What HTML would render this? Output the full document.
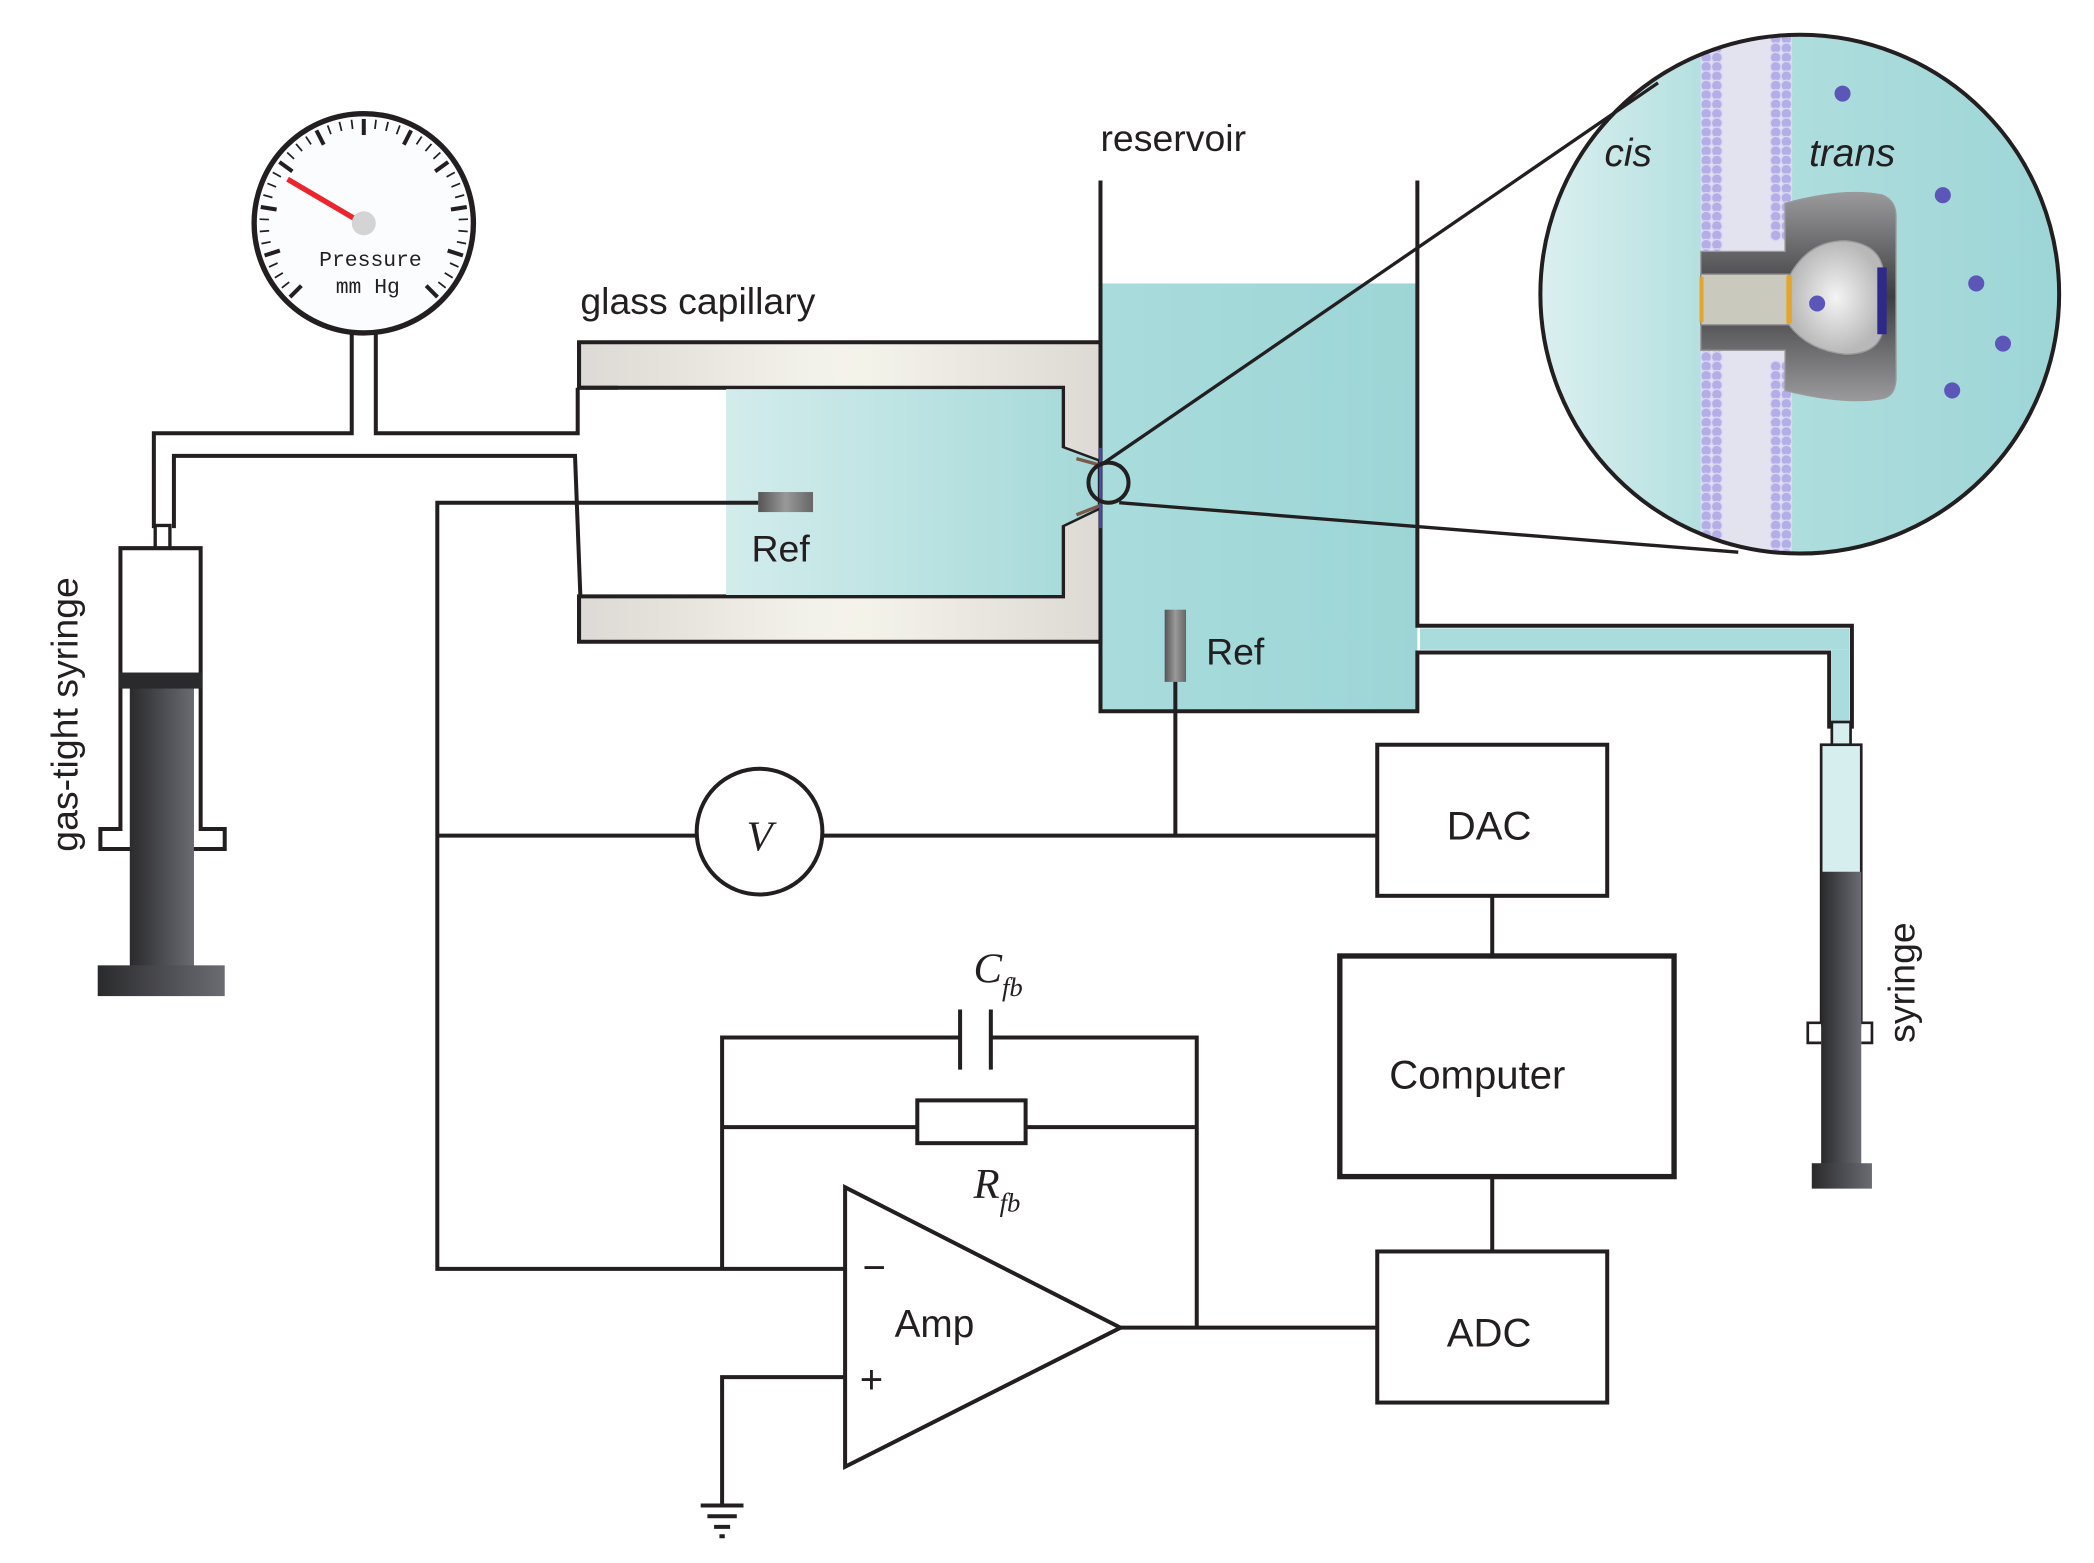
<!DOCTYPE html>
<html><head><meta charset="utf-8"><style>
html,body{margin:0;padding:0;background:#fff;}
svg{display:block;}
text{font-family:"Liberation Sans",sans-serif;fill:#231f20;}
</style></head><body>
<svg id="s" width="2094" height="1563" viewBox="0 0 1566 1169" xmlns="http://www.w3.org/2000/svg">
<defs>
<linearGradient id="cap" x1="0" x2="1"><stop offset="0" stop-color="#ddd9d4"/><stop offset="0.45" stop-color="#f3f2ea"/><stop offset="0.55" stop-color="#f4f3ea"/><stop offset="1" stop-color="#ddd9d4"/></linearGradient>
<linearGradient id="cy" x1="0" x2="1"><stop offset="0" stop-color="#d3ecec"/><stop offset="1" stop-color="#a5d9d9"/></linearGradient>
<linearGradient id="res" x1="0" x2="1"><stop offset="0" stop-color="#a9dcdc"/><stop offset="1" stop-color="#9dd5d6"/></linearGradient>
<linearGradient id="ins" x1="0" x2="1"><stop offset="0" stop-color="#dcf0f0"/><stop offset="0.3" stop-color="#b5e0e0"/><stop offset="1" stop-color="#9cd5d6"/></linearGradient>
<linearGradient id="pl" x1="0" x2="1"><stop offset="0" stop-color="#2a2a2c"/><stop offset="0.5" stop-color="#4a4b50"/><stop offset="1" stop-color="#6a6c72"/></linearGradient>
<linearGradient id="ref" x1="0" x2="1"><stop offset="0" stop-color="#555"/><stop offset="0.5" stop-color="#999"/><stop offset="1" stop-color="#666"/></linearGradient>
<linearGradient id="pore" x1="0" x2="0" y1="0" y2="1"><stop offset="0" stop-color="#9a9a9c"/><stop offset="0.5" stop-color="#3e3e40"/><stop offset="1" stop-color="#9a9a9c"/></linearGradient>
<radialGradient id="bulb"><stop offset="0" stop-color="#f4f4f4"/><stop offset="1" stop-color="#b8b8b8"/></radialGradient>
<clipPath id="cc"><circle cx="1346" cy="220" r="194"/></clipPath>
</defs>
<g stroke="#231f20" stroke-width="3" fill="none">
<rect x="823" y="212" width="237" height="320" fill="url(#res)" stroke="none"/>
<path d="M823,135 V532 H1060 V488 H1368 V545"/>
<path d="M1060,135 V468 H1385 V545"/>
<rect x="1062" y="470" width="321" height="16" fill="#a9dcdc" stroke="none"/>
<rect x="1370" y="486" width="13" height="60" fill="#a9dcdc" stroke="none"/>
<path d="M433,256 H823 V480 H433 V446 H795 V393 L822,380 V345 L795,335 V290 H433 Z" fill="url(#cap)" fill-rule="evenodd"/>
<path d="M543,291 H794 V335 L821,345 V380 L794,393 V445 H543 Z" fill="url(#cy)" stroke="none"/>
<path d="M433,256 V290 H462 M433,480 V446"/>
<path d="M805,343 L823,348 M805,385 L823,378" stroke="#7a5a4a" stroke-width="2.5"/>
<path d="M823,335 V395" stroke="#4b4bb0" stroke-width="2"/>
<path d="M115,395 V324 H263 V250 M281,250 V324 H432 V290"/>
<path d="M130,395 V341 H430 L434,446"/>
<circle cx="272" cy="167" r="82" fill="#fbfcfd" stroke-width="4"/>
<g id="ticks"></g>
<line x1="215" y1="134" x2="266" y2="164" stroke="#e8262c" stroke-width="4"/>
<circle cx="272" cy="167" r="9" fill="#d4d4d4" stroke="none"/>
<!-- left syringe -->
<rect x="116" y="393" width="11" height="17" fill="#fff" stroke-width="2.5"/>
<path d="M90,410 H150 V620 H168 V635 H75 V620 H90 Z" fill="#fff"/>
<rect x="97" y="505" width="48" height="220" fill="url(#pl)" stroke="none"/>
<rect x="73" y="722" width="95" height="23" fill="url(#pl)" stroke="none"/>
<rect x="89" y="503" width="62" height="12" fill="#2a2a2c" stroke="none"/>
<!-- right syringe -->
<rect x="1370" y="540" width="14" height="18" fill="#d6eeee" stroke-width="2"/>
<rect x="1362" y="557" width="30" height="210" fill="#d6eeee" stroke-width="2"/>
<path d="M1362,765 H1352 V780 H1362 M1392,765 H1400 V780 H1392" fill="#fff" stroke-width="2"/>
<rect x="1362" y="652" width="30" height="220" fill="url(#pl)" stroke="none"/>
<rect x="1355" y="870" width="45" height="19" fill="url(#pl)" stroke="none"/>
<rect x="567" y="368" width="41" height="15" fill="url(#ref)" stroke="none"/>
<rect x="871" y="456" width="16" height="54" fill="url(#ref)" stroke="none"/>
<path d="M567,376 H327 V949 H632 M327,625 H521 M615,625 H1030 M879,510 V625"/>
<circle cx="568" cy="622" r="47"/>
<rect x="1030" y="557" width="172" height="113"/>
<path d="M1116,670 V715 M1116,880 V936"/>
<rect x="1002" y="715" width="250" height="165" stroke-width="4"/>
<rect x="1030" y="936" width="172" height="113"/>
<path d="M632,888 V1097 L838,993 Z"/>
<path d="M838,993 H1030 M895,993 V776 H741 M718,776 H540 V949 M540,843 H686 M767,843 H895"/>
<path d="M718,755 V800 M741,755 V800"/>
<rect x="686" y="823" width="81" height="32"/>
<path d="M632,1030 H540 V1126 M524,1126 H556 M529,1134 H551 M534,1142 H546 M538,1149 H542"/>
<!-- inset -->
<g clip-path="url(#cc)">
<rect x="1150" y="20" width="400" height="400" fill="url(#ins)" stroke="none"/>
<rect x="1272" y="20" width="68" height="400" fill="#e3e3f0" stroke="none"/>
<g id="beads" stroke="none"></g>
<path d="M1335,152 Q1380,140 1408,146 Q1418,150 1418,162 V282 Q1418,296 1408,298 Q1380,303 1335,292 V262 H1272 V188 H1335 Z" fill="url(#pore)" stroke="#999" stroke-width="1"/>
<rect x="1272" y="205" width="66" height="38" fill="#c9c9bd" stroke="#888" stroke-width="1"/>
<path d="M1338,207 Q1352,180 1380,180 Q1404,182 1408,200 V248 Q1404,265 1380,265 Q1352,262 1338,243 Z" fill="url(#bulb)" stroke="#999" stroke-width="1"/>
<rect x="1404" y="200" width="7" height="50" fill="#2e2a8a" stroke="none"/>
<rect x="1336" y="206" width="4" height="36" fill="#e3a52a" stroke="none"/>
<rect x="1271" y="207" width="3" height="34" fill="#e3a52a" stroke="none"/>
<g fill="#5b56b8" stroke="none">
<circle cx="1378" cy="70" r="6"/><circle cx="1453" cy="146" r="6"/><circle cx="1478" cy="212" r="6"/><circle cx="1498" cy="257" r="6"/><circle cx="1460" cy="292" r="6"/><circle cx="1359" cy="227" r="6"/>
</g>
</g>
<circle cx="1346" cy="220" r="194" stroke-width="3"/>
<circle cx="829" cy="361" r="15" stroke-width="3"/>
<path d="M823,348 L1240,62 M837,376 L1300,413" stroke-width="2.5"/>
</g>
<text x="823" y="113" font-size="28">reservoir</text>
<text x="434" y="235" font-size="28">glass capillary</text>
<text x="562" y="420" font-size="28">Ref</text>
<text x="902" y="497" font-size="28">Ref</text>
<text x="1082" y="628" font-size="30">DAC</text>
<text x="1039" y="814" font-size="30">Computer</text>
<text x="1082" y="1007" font-size="30">ADC</text>
<text x="669" y="1000" font-size="29">Amp</text>
<text x="645" y="958" font-size="30">−</text>
<text x="643" y="1042" font-size="30">+</text>
<text x="568" y="636" font-size="32" text-anchor="middle" font-style="italic" style="font-family:'Liberation Serif',serif">V</text>
<text x="728" y="735" font-size="32" font-style="italic" style="font-family:'Liberation Serif',serif">C<tspan font-size="20" dy="10">fb</tspan></text>
<text x="728" y="896" font-size="32" font-style="italic" style="font-family:'Liberation Serif',serif">R<tspan font-size="20" dy="10">fb</tspan></text>
<text x="277" y="199" font-size="16" text-anchor="middle" style="font-family:'Liberation Mono',monospace">Pressure</text>
<text x="275" y="219" font-size="16" text-anchor="middle" style="font-family:'Liberation Mono',monospace">mm Hg</text>
<text x="1200" y="124" font-size="29" font-style="italic">cis</text>
<text x="1353" y="124" font-size="29" font-style="italic">trans</text>
<text transform="translate(58,637) rotate(-90)" font-size="28">gas-tight syringe</text>
<text transform="translate(1432,780) rotate(-90)" font-size="28">syringe</text>
</svg>
<script>
var ns="http://www.w3.org/2000/svg",t=document.getElementById("ticks");
for(var i=0;i<=40;i++){var a=(225-i*270/40)*Math.PI/180,maj=i%4==0;var r1=78,r2=maj?66:71;
var l=document.createElementNS(ns,"line");l.setAttribute("x1",272+r1*Math.cos(a));l.setAttribute("y1",167-r1*Math.sin(a));
l.setAttribute("x2",272+r2*Math.cos(a));l.setAttribute("y2",167-r2*Math.sin(a));l.setAttribute("stroke-width",maj?3:1.3);t.appendChild(l);}
var b=document.getElementById("beads");
[1276,1284,1328,1336].forEach(function(x){for(var y=22;y<420;y+=7){if(x>1320&&y>180&&y<268)continue;if(x<1290&&y>200&&y<250)continue;
var c=document.createElementNS(ns,"circle");c.setAttribute("cx",x);c.setAttribute("cy",y);c.setAttribute("r",4);c.setAttribute("fill","#b3aee6");c.setAttribute("stroke","#d9d6f3");c.setAttribute("stroke-width","1");b.appendChild(c);}});
</script>
</body></html>
